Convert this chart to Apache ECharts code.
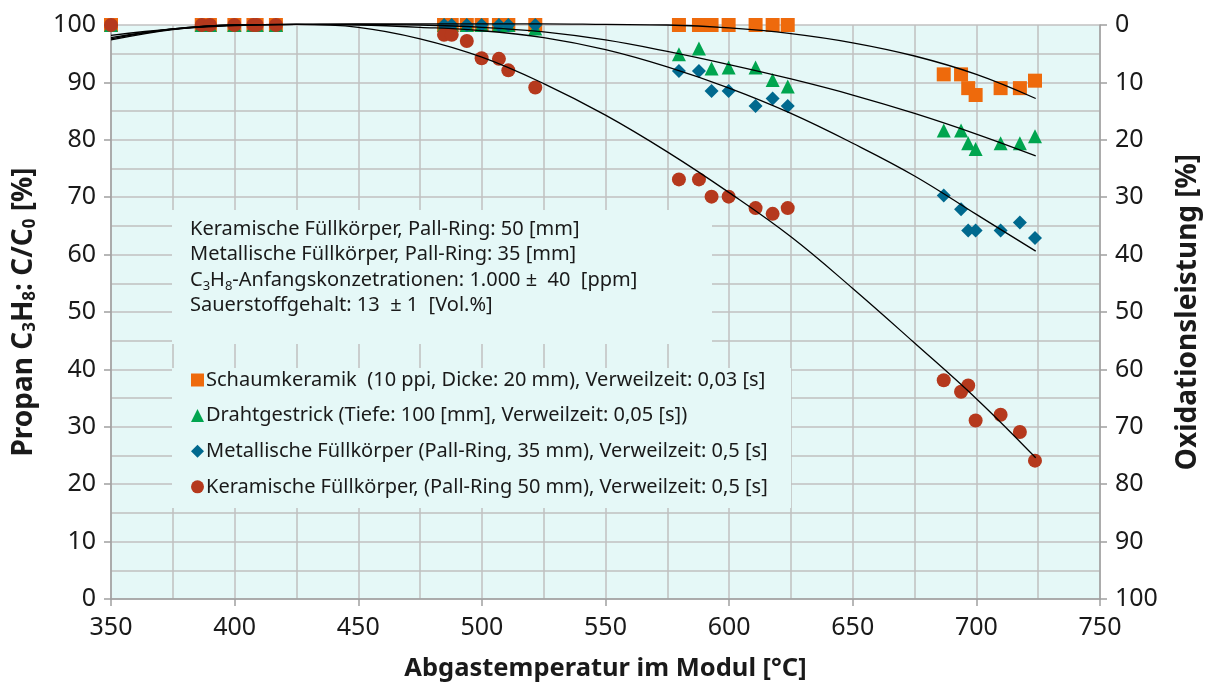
<!DOCTYPE html>
<html><head><meta charset="utf-8">
<script src="https://cdn.jsdelivr.net/npm/echarts@6/dist/echarts.min.js"></script>
<style>html,body{margin:0;padding:0;background:#fff}#c{width:1208px;height:687px}</style>
</head><body><div id="c"></div>
<script>
// Temperatures of the measuring points (°C), four groups
const tempGroup1 = [350.0, 386.7, 390.0, 399.9, 407.6, 408.9, 416.7];
const tempGroup2 = [484.7, 487.8, 493.9, 499.9, 506.9, 510.7, 521.6];
const tempGroup3 = [579.7, 587.8, 592.9, 599.8, 610.7, 617.6, 623.7];
const tempGroup4 = [686.8, 693.8, 696.7, 699.7, 709.8, 717.6, 723.7];
const temps = tempGroup1.concat(tempGroup2, tempGroup3, tempGroup4);

// C/C0 [%] per series
const schaumValues = [100,100,100,100,100,100,100, 100,100,100,100,100,100,100, 100,100,100,100,100,100,100, 91.4,91.4,89.0,87.8,89.0,89.0,90.3];
const drahtValues  = [100,100,100,100,100,100,100, 100,100,100,100,100,100,99.4, 94.9,95.9,92.4,92.6,92.6,90.4,89.3, 81.6,81.6,79.4,78.4,79.4,79.4,80.6];
const metallValues = [100,100,100,100,100,100,100, 100,100,100,100,100,100,100, 92.0,92.0,88.5,88.5,85.9,87.2,85.9, 70.3,67.9,64.2,64.2,64.2,65.6,62.9];
const keramValues  = [100,100,100,100,100,100,100, 98.3,98.3,97.2,94.2,94.1,92.1,89.1, 73.1,73.1,70.1,70.1,68.1,67.1,68.1, 38.1,36.1,37.2,31.1,32.1,29.1,24.1];

// Trend lines
const trendTemps  = [350, 375, 400, 425, 450, 475, 500, 525, 550, 575, 600, 625, 650, 675, 700, 724];
const schaumTrend = [98.2, 99.3, 99.9, 100.1, 100.2, 100.2, 100.2, 100.2, 100.1, 100.0, 99.5, 98.5, 96.9, 94.6, 91.4, 87.2];
const drahtTrend  = [97.8, 99.3, 100, 100.1, 100.1, 100.0, 99.6, 98.8, 97.4, 95.4, 93.1, 90.6, 87.8, 84.6, 81.0, 77.2];
const metallTrend = [97.4, 99.2, 100, 100.1, 100, 99.6, 99.0, 97.8, 95.7, 92.7, 89.0, 84.6, 79.4, 73.7, 67.0, 60.6];
const keramTrend  = [97.6, 99.3, 100, 100.1, 99.6, 97.6, 94.4, 89.8, 84.3, 77.9, 70.8, 63.1, 54.1, 44.6, 34.9, 24.6];

const seriesNames = [
  'Schaumkeramik  (10 ppi, Dicke: 20 mm), Verweilzeit: 0,03 [s]',
  'Drahtgestrick (Tiefe: 100 [mm], Verweilzeit: 0,05 [s])',
  'Metallische Füllkörper (Pall-Ring, 35 mm), Verweilzeit: 0,5 [s]',
  'Keramische Füllkörper, (Pall-Ring 50 mm), Verweilzeit: 0,5 [s]'
];
const seriesColors = ['#EE6A0C', '#00A54F', '#00698E', '#B5391D'];
const seriesSymbols = ['rect', 'triangle', 'diamond', 'circle'];
const allValues = [schaumValues, drahtValues, metallValues, keramValues];
const allTrends = [schaumTrend, drahtTrend, metallTrend, keramTrend];

const FONT = 'Noto Sans';
const BG = '#E5F8F7';
const GRID_LINE = '#C0C0C0';
const AXIS_LINE = '#A0A0A0';
const TXT = '#1a1a1a';

const chart = echarts.init(document.getElementById('c'), null, {renderer: 'canvas'});

const series = [];
allValues.forEach((vals, i) => {
  series.push({
    name: seriesNames[i], type: 'scatter', symbol: seriesSymbols[i], symbolSize: 14,
    itemStyle: {color: seriesColors[i], opacity: 1}, z: 3 + i, clip: false,
    data: temps.map((t, k) => [t, vals[k]])
  });
});
allTrends.forEach((vals) => {
  series.push({
    type: 'line', showSymbol: false, smooth: 0.4, silent: true, z: 10, clip: false,
    lineStyle: {color: '#000', width: 1.3},
    data: trendTemps.map((t, k) => [t, vals[k]])
  });
});

chart.setOption({
  animation: false,
  textStyle: {fontFamily: FONT},
  grid: {left: 111, right: 108, top: 25, bottom: 88, show: true, backgroundColor: BG, borderWidth: 0,
         containLabel: false, outerBoundsMode: 'none'},
  legend: {
    data: seriesNames, orient: 'vertical', left: 191, top: 369, itemGap: 13.6,
    itemWidth: 13, itemHeight: 13, padding: 0,
    itemStyle: {opacity: 1},
    textStyle: {fontSize: 20, color: TXT, fontFamily: FONT, lineHeight: 22, padding: [0, 0, 0, -3]},
    selectedMode: false, z: 20
  },
  xAxis: {
    type: 'value', min: 350, max: 750, interval: 50,
    axisLine: {show: true, lineStyle: {color: AXIS_LINE, width: 1.5}},
    axisTick: {show: true, length: 7, lineStyle: {color: AXIS_LINE, width: 1.5}},
    minorTick: {show: false, splitNumber: 2},
    axisLabel: {fontSize: 25, color: TXT, margin: 16, fontFamily: FONT},
    splitLine: {show: true, lineStyle: {color: GRID_LINE, width: 1.5}},
    minorSplitLine: {show: true, lineStyle: {color: GRID_LINE, width: 1.5}},
    name: 'Abgastemperatur im Modul [°C]', nameLocation: 'middle', nameGap: 57,
    nameTextStyle: {fontSize: 25.5, fontWeight: 'bold', color: TXT, fontFamily: FONT}
  },
  yAxis: [{
    type: 'value', min: 0, max: 100, interval: 10, position: 'left',
    axisLine: {show: true, lineStyle: {color: AXIS_LINE, width: 1.5}},
    axisTick: {show: true, length: 7, lineStyle: {color: AXIS_LINE, width: 1.5}},
    minorTick: {show: false, splitNumber: 2},
    axisLabel: {fontSize: 25, color: TXT, margin: 15, fontFamily: FONT},
    splitLine: {show: true, lineStyle: {color: GRID_LINE, width: 1.5}},
    minorSplitLine: {show: true, lineStyle: {color: GRID_LINE, width: 1.5}},
    name: '{a|Propan C}{s|3}{a|H}{s|8}{a|: C/C}{s|0}{a| [%]}', nameLocation: 'middle', nameRotate: 90, nameGap: 72,
    nameTextStyle: {
      rich: {
        a: {fontSize: 28, fontWeight: 'bold', color: TXT, fontFamily: FONT, verticalAlign: 'middle', lineHeight: 30},
        s: {fontSize: 17, fontWeight: 'bold', color: TXT, fontFamily: FONT, verticalAlign: 'bottom', lineHeight: 30}
      }
    }
  }, {
    type: 'value', min: 0, max: 100, interval: 10, position: 'right', inverse: true,
    axisLine: {show: true, lineStyle: {color: AXIS_LINE, width: 1.5}},
    axisTick: {show: true, length: 7, lineStyle: {color: AXIS_LINE, width: 1.5}},
    axisLabel: {fontSize: 25, color: TXT, margin: 15, fontFamily: FONT},
    splitLine: {show: false},
    name: 'Oxidationsleistung [%]', nameLocation: 'middle', nameRotate: 90, nameGap: 74,
    nameTextStyle: {fontSize: 28, fontWeight: 'bold', color: TXT, fontFamily: FONT}
  }],
  graphic: [
    {type: 'rect', z: 1, silent: true, shape: {x: 172, y: 210, width: 540, height: 134}, style: {fill: BG}},
    {type: 'rect', z: 1, silent: true, shape: {x: 172, y: 368, width: 619, height: 140}, style: {fill: BG}},
    {type: 'text', z: 2, silent: true, left: 190, top: 219, style: {
      text: '{a|Keramische Füllkörper, Pall-Ring: 50 [mm]}\n{a|Metallische Füllkörper, Pall-Ring: 35 [mm]}\n{a|C}{s|3}{a|H}{s|8}{a|-Anfangskonzetrationen: 1.000 ±  40  [ppm]}\n{a|Sauerstoffgehalt: 13  ± 1  [Vol.%]}',
      rich: {
        a: {fontSize: 20, fill: TXT, fontFamily: FONT, verticalAlign: 'middle', lineHeight: 25.5},
        s: {fontSize: 13, fill: TXT, fontFamily: FONT, verticalAlign: 'bottom', lineHeight: 25.5}
      }
    }}
  ],
  series: series
});
</script></body></html>
